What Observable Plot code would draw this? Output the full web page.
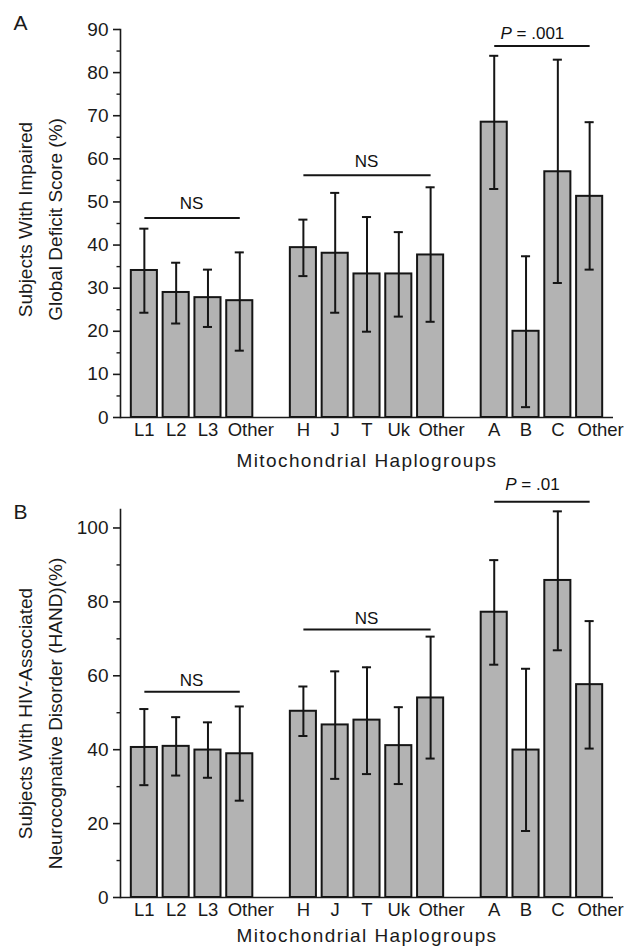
<!DOCTYPE html>
<html>
<head>
<meta charset="utf-8">
<script src="https://cdn.jsdelivr.net/npm/d3@7"></script>
<script src="https://cdn.jsdelivr.net/npm/@observablehq/plot@0.6"></script>
<style>
  body { margin: 0; background: #fff; }
  #chart svg { display: block; }
</style>
</head>
<body>
<div id="chart"></div>
<script>
// x slots (gaps separate the three haplogroup families)
const slots = ["L1","L2","L3","Other_L","gap1","H","J","T","Uk","Other_E","gap2","A","B","C","Other_N"];
const slotLabels = ["L1","L2","L3","Other","","H","J","T","Uk","Other","","A","B","C","Other"];
const haplogroups = ["L1","L2","L3","Other_L","H","J","T","Uk","Other_E","A","B","C","Other_N"];
const otherSlots = ["Other_L","Other_E","Other_N"];

// Panel A: impaired global deficit score (%)
const gdsValue = [34.1,29.0,27.8,27.1,39.4,38.1,33.3,33.3,37.7,68.5,20.0,57.0,51.3];
const gdsLow   = [24.3,21.8,21.0,15.5,32.8,24.3,19.9,23.4,22.2,53.0,2.4,31.2,34.3];
const gdsHigh  = [43.8,35.9,34.3,38.3,45.9,52.1,46.5,43.0,53.4,83.9,37.4,83.0,68.5];

// Panel B: HAND (%)
const handValue = [40.6,40.9,39.9,38.9,50.4,46.7,48.0,41.1,54.0,77.2,39.9,85.8,57.6];
const handLow   = [30.4,33.0,32.4,26.2,43.7,32.1,33.4,30.7,37.6,63.0,18.0,66.9,40.3];
const handHigh  = [51.0,48.8,47.4,51.7,57.1,61.2,62.3,51.5,70.6,91.3,61.9,104.5,74.8];

// significance brackets
const bracketFrom = ["L1","H","A"];
const bracketTo = ["Other_L","Other_E","Other_N"];
const gdsBracketY = [46.3,56.2,86.2];
const handBracketY = [55.7,72.5,107.1];
const gdsBracketP = [null,null,".001"];
const handBracketP = [null,null,".01"];

// axis ticks
const gdsTicks = [0,10,20,30,40,50,60,70,80,90];
const gdsMinor = [5,15,25,35,45,55,65,75,85];
const handTicks = [0,20,40,60,80,100];
const handMinor = [10,30,50,70,90];

const FONT = "'Liberation Sans', Arial, Helvetica, sans-serif";
const labelOf = Object.fromEntries(slots.map((s, i) => [s, slotLabels[i]]));

function bracketLabels(brackets, gap) {
  return (index, scales) => {
    const g = d3.create("svg:g");
    const bw = scales.x.bandwidth ? scales.x.bandwidth() / 2 : 0;
    for (const b of brackets) {
      const x1 = scales.x(b.from) + bw, x2 = scales.x(b.to) + bw;
      const y = scales.y(b.y);
      const t = g.append("text")
        .attr("x", (x1 + x2) / 2 + (b.p ? -9 : 0))
        .attr("y", y - (b.p ? gap.p : gap.ns))
        .attr("text-anchor", "middle")
        .attr("font-family", FONT)
        .attr("font-size", 17)
        .attr("fill", "#111");
      if (b.p) {
        t.append("tspan").attr("font-style", "italic").text("P");
        t.append("tspan").text(" = " + b.p);
      } else {
        t.text("NS");
      }
    }
    return g.node();
  };
}

function panel(o) {
  const data = haplogroups.map((h, i) => ({slot: h, value: o.value[i], low: o.low[i], high: o.high[i]}));
  const brackets = bracketFrom.map((f, i) => ({from: f, to: bracketTo[i], y: o.bracketY[i], p: o.bracketP[i]}));
  const plot = Plot.plot({
    width: 638,
    height: o.height,
    marginLeft: 120,
    marginRight: 25,
    marginTop: o.marginTop,
    marginBottom: o.marginBottom,
    style: {fontFamily: FONT, color: "#1a1a1a", background: "#fff", overflow: "visible"},
    x: {domain: slots, paddingInner: 0.18, paddingOuter: 0.34, round: false, axis: null},
    y: {domain: o.domain, axis: null},
    marks: [
      Plot.barY(data, {x: "slot", y: "value", fill: "#b3b3b3", stroke: "#151515", strokeWidth: 2}),
      Plot.ruleX(data, {x: "slot", y1: "low", y2: "high", stroke: "#151515", strokeWidth: 2}),
      Plot.tickY(data, {x: "slot", y: "high", stroke: "#151515", strokeWidth: 2, insetLeft: 8.5, insetRight: 8.5}),
      Plot.tickY(data, {x: "slot", y: "low", stroke: "#151515", strokeWidth: 2, insetLeft: 8.5, insetRight: 8.5}),
      Plot.link(brackets, {x1: "from", x2: "to", y1: "y", y2: "y", stroke: "#151515", strokeWidth: 2}),
      bracketLabels(brackets, o.gap),
      Plot.ruleY([0], {stroke: "#1a1a1a", strokeWidth: 1.6}),
      Plot.frame({anchor: "left", stroke: "#1a1a1a", strokeWidth: 1.6}),
      Plot.axisY({ticks: o.ticks, tickSize: 7, tickPadding: 5, label: null, fontSize: 19, strokeWidth: 1.6}),
      Plot.axisY({ticks: o.minor, tickSize: 3.5, text: null, label: null, strokeWidth: 1.4}),
      Plot.axisX({ticks: haplogroups.filter(d => !otherSlots.includes(d)), tickSize: 0, tickPadding: 5, label: null, fontSize: 18.5, tickFormat: d => labelOf[d]}),
      Plot.axisX({ticks: otherSlots, tickSize: 0, tickPadding: 5, dx: 11, label: null, fontSize: 18.5, tickFormat: d => labelOf[d]}),
      Plot.text([o.xTitle], {frameAnchor: "bottom", dy: o.xTitleDy, fontSize: 19, lineAnchor: "middle"}),
      Plot.text([o.yTitle], {frameAnchor: "left", textAnchor: "middle", dx: -83, dy: o.yTitleDy, rotate: -90, fontSize: 19, lineHeight: 1.58, lineAnchor: "middle"}),
      Plot.text([o.letter], {frameAnchor: "top-left", dx: -107, dy: o.letterDy, fontSize: 21, textAnchor: "start", lineAnchor: "middle"})
    ]
  });
  d3.select(plot).selectAll("text").filter(function () { return this.textContent === o.xTitle; })
    .style("letter-spacing", "1.4px");
  return plot;
}

const chart = document.getElementById("chart");
chart.appendChild(panel({
  value: gdsValue, low: gdsLow, high: gdsHigh,
  bracketY: gdsBracketY, bracketP: gdsBracketP,
  ticks: gdsTicks, minor: gdsMinor, domain: [0, 90],
  height: 475, marginTop: 29, marginBottom: 58,
  gap: {ns: 8, p: 6},
  xTitle: "Mitochondrial Haplogroups", xTitleDy: 43,
  yTitle: "Subjects With Impaired\nGlobal Deficit Score (%)", yTitleDy: -4,
  letter: "A", letterDy: -6.5
}));
chart.appendChild(panel({
  value: handValue, low: handLow, high: handHigh,
  bracketY: handBracketY, bracketP: handBracketP,
  ticks: handTicks, minor: handMinor, domain: [0, 105],
  height: 474, marginTop: 34, marginBottom: 52,
  gap: {ns: 5, p: 11},
  xTitle: "Mitochondrial Haplogroups", xTitleDy: 38,
  yTitle: "Subjects With HIV-Associated\nNeurocognative Disorder (HAND)(%)", yTitleDy: 10,
  letter: "B", letterDy: 3
}));
</script>
</body>
</html>
